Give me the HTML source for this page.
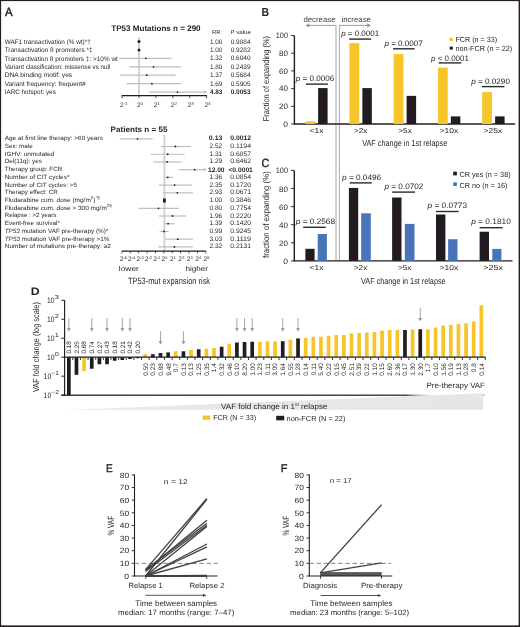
<!DOCTYPE html>
<html><head><meta charset="utf-8"><style>
html,body{margin:0;padding:0;background:#fff;}
svg{display:block;font-family:"Liberation Sans",sans-serif;text-rendering:geometricPrecision;}
</style></head><body>
<svg width="520" height="627" viewBox="0 0 520 627">
<defs><filter id="soft" x="0" y="0" width="520" height="627" filterUnits="userSpaceOnUse"><feGaussianBlur stdDeviation="0.35"/></filter></defs>
<rect x="0" y="0" width="520" height="627" fill="#fff"/>
<g filter="url(#soft)">
<rect x="0" y="0" width="520" height="627" fill="#fff"/>
<text x="5.10" y="16.00" font-size="12.0" textLength="7.60" lengthAdjust="spacingAndGlyphs" fill="#231f20" stroke="#231f20" stroke-width="0.45">A</text>
<text x="111.30" y="31.00" font-size="8.1" font-weight="bold" textLength="89.31" lengthAdjust="spacingAndGlyphs" fill="#231f20">TP53 Mutations n = 290</text>
<text x="211.92" y="34.10" font-size="5.5" textLength="8.55" lengthAdjust="spacingAndGlyphs" fill="#231f20">RR</text>
<text x="230.53" y="34.10" font-size="5.5" textLength="20.45" lengthAdjust="spacingAndGlyphs" fill="#231f20">P value</text>
<rect x="138" y="37" width="2" height="58.7" fill="#d1d3d4"/>
<text x="4.67" y="43.85" font-size="6.5" textLength="86.05" lengthAdjust="spacingAndGlyphs" fill="#231f20">WAF1 transactivation (% wt)*†</text>
<circle cx="139" cy="41.50" r="1.5" fill="#231f20"/>
<text x="209.97" y="43.75" font-size="6.6" textLength="12.46" lengthAdjust="spacingAndGlyphs" fill="#231f20">1.00</text>
<text x="230.67" y="43.75" font-size="6.6" textLength="19.86" lengthAdjust="spacingAndGlyphs" fill="#231f20">0.9884</text>
<text x="4.67" y="52.22" font-size="6.5" textLength="87.90" lengthAdjust="spacingAndGlyphs" fill="#231f20">Transactivation 8 promoters *‡</text>
<circle cx="139" cy="49.93" r="1.5" fill="#231f20"/>
<text x="209.97" y="52.12" font-size="6.6" textLength="12.46" lengthAdjust="spacingAndGlyphs" fill="#231f20">1.00</text>
<text x="230.67" y="52.12" font-size="6.6" textLength="19.86" lengthAdjust="spacingAndGlyphs" fill="#231f20">0.9282</text>
<text x="4.67" y="60.59" font-size="6.5" textLength="113.15" lengthAdjust="spacingAndGlyphs" fill="#231f20">Transactivation 8 promoters ‡: &gt;10% wt</text>
<line x1="119.30" y1="58.36" x2="171.40" y2="58.36" stroke="#bcbec0" stroke-width="1.2"/>
<circle cx="145.80" cy="58.36" r="0.9" fill="#231f20"/>
<text x="209.97" y="60.49" font-size="6.6" textLength="12.46" lengthAdjust="spacingAndGlyphs" fill="#231f20">1.32</text>
<text x="230.67" y="60.49" font-size="6.6" textLength="19.86" lengthAdjust="spacingAndGlyphs" fill="#231f20">0.6040</text>
<text x="4.67" y="68.96" font-size="6.5" textLength="105.65" lengthAdjust="spacingAndGlyphs" fill="#231f20">Variant classification: missense vs null</text>
<line x1="129.40" y1="66.79" x2="180.80" y2="66.79" stroke="#bcbec0" stroke-width="1.2"/>
<circle cx="153.50" cy="66.79" r="0.9" fill="#231f20"/>
<text x="209.97" y="68.86" font-size="6.6" textLength="12.46" lengthAdjust="spacingAndGlyphs" fill="#231f20">1.80</text>
<text x="230.67" y="68.86" font-size="6.6" textLength="19.86" lengthAdjust="spacingAndGlyphs" fill="#231f20">0.2439</text>
<text x="4.67" y="77.33" font-size="6.5" textLength="67.55" lengthAdjust="spacingAndGlyphs" fill="#231f20">DNA binding motif: yes</text>
<line x1="120.40" y1="75.22" x2="175.60" y2="75.22" stroke="#bcbec0" stroke-width="1.2"/>
<circle cx="146.70" cy="75.22" r="0.9" fill="#231f20"/>
<text x="209.97" y="77.23" font-size="6.6" textLength="12.46" lengthAdjust="spacingAndGlyphs" fill="#231f20">1.37</text>
<text x="230.67" y="77.23" font-size="6.6" textLength="19.86" lengthAdjust="spacingAndGlyphs" fill="#231f20">0.5684</text>
<text x="4.67" y="85.70" font-size="6.5" textLength="81.05" lengthAdjust="spacingAndGlyphs" fill="#231f20">Variant frequency: frequent#</text>
<line x1="126.50" y1="83.65" x2="181.30" y2="83.65" stroke="#bcbec0" stroke-width="1.2"/>
<circle cx="151.90" cy="83.65" r="0.9" fill="#231f20"/>
<text x="209.97" y="85.60" font-size="6.6" textLength="12.46" lengthAdjust="spacingAndGlyphs" fill="#231f20">1.69</text>
<text x="230.67" y="85.60" font-size="6.6" textLength="19.86" lengthAdjust="spacingAndGlyphs" fill="#231f20">0.5905</text>
<text x="4.67" y="94.07" font-size="6.5" textLength="51.15" lengthAdjust="spacingAndGlyphs" fill="#231f20">IARC hotspot: yes</text>
<line x1="149.20" y1="92.08" x2="206.30" y2="92.08" stroke="#bcbec0" stroke-width="1.2"/>
<circle cx="177.50" cy="92.08" r="0.9" fill="#231f20"/>
<text x="209.97" y="93.97" font-size="6.6" font-weight="bold" textLength="12.46" lengthAdjust="spacingAndGlyphs" fill="#231f20">4.83</text>
<text x="230.67" y="93.97" font-size="6.6" font-weight="bold" textLength="19.86" lengthAdjust="spacingAndGlyphs" fill="#231f20">0.0053</text>
<path d="M203.6,90.48 L206.6,92.08 L203.6,93.68" fill="none" stroke="#bcbec0" stroke-width="0.8"/>
<line x1="121.70" y1="95.70" x2="206.90" y2="95.70" stroke="#231f20" stroke-width="1.3"/>
<line x1="122.10" y1="95.70" x2="122.10" y2="98.20" stroke="#231f20" stroke-width="0.8"/>
<text x="121.80" y="107.10" font-size="6.6" text-anchor="middle" fill="#231f20" textLength="3.6" lengthAdjust="spacingAndGlyphs">2</text>
<text x="123.70" y="104.7" font-size="4.3" fill="#231f20">-1</text>
<line x1="139.00" y1="95.70" x2="139.00" y2="98.20" stroke="#231f20" stroke-width="0.8"/>
<text x="138.70" y="107.10" font-size="6.6" text-anchor="middle" fill="#231f20" textLength="3.6" lengthAdjust="spacingAndGlyphs">2</text>
<text x="140.60" y="104.7" font-size="4.3" fill="#231f20">0</text>
<line x1="155.90" y1="95.70" x2="155.90" y2="98.20" stroke="#231f20" stroke-width="0.8"/>
<text x="155.60" y="107.10" font-size="6.6" text-anchor="middle" fill="#231f20" textLength="3.6" lengthAdjust="spacingAndGlyphs">2</text>
<text x="157.50" y="104.7" font-size="4.3" fill="#231f20">1</text>
<line x1="172.80" y1="95.70" x2="172.80" y2="98.20" stroke="#231f20" stroke-width="0.8"/>
<text x="172.50" y="107.10" font-size="6.6" text-anchor="middle" fill="#231f20" textLength="3.6" lengthAdjust="spacingAndGlyphs">2</text>
<text x="174.40" y="104.7" font-size="4.3" fill="#231f20">2</text>
<line x1="189.70" y1="95.70" x2="189.70" y2="98.20" stroke="#231f20" stroke-width="0.8"/>
<text x="189.40" y="107.10" font-size="6.6" text-anchor="middle" fill="#231f20" textLength="3.6" lengthAdjust="spacingAndGlyphs">2</text>
<text x="191.30" y="104.7" font-size="4.3" fill="#231f20">3</text>
<line x1="206.60" y1="95.70" x2="206.60" y2="98.20" stroke="#231f20" stroke-width="0.8"/>
<text x="206.30" y="107.10" font-size="6.6" text-anchor="middle" fill="#231f20" textLength="3.6" lengthAdjust="spacingAndGlyphs">2</text>
<text x="208.20" y="104.7" font-size="4.3" fill="#231f20">4</text>
<text x="110.61" y="132.10" font-size="7.85" font-weight="bold" textLength="56.88" lengthAdjust="spacingAndGlyphs" fill="#231f20">Patients n = 55</text>
<rect x="163.4" y="135" width="2" height="115.8" fill="#d1d3d4"/>
<text x="4.70" y="140.20" font-size="6.1" textLength="98.21" lengthAdjust="spacingAndGlyphs" fill="#231f20">Age at first line therapy: &gt;60 years</text>
<line x1="119.60" y1="138.80" x2="152.70" y2="138.80" stroke="#bcbec0" stroke-width="1.2"/>
<circle cx="137.50" cy="138.80" r="0.9" fill="#231f20"/>
<text x="208.87" y="140.30" font-size="6.6" font-weight="bold" textLength="13.56" lengthAdjust="spacingAndGlyphs" fill="#231f20">0.13</text>
<text x="230.27" y="140.30" font-size="6.6" font-weight="bold" textLength="20.76" lengthAdjust="spacingAndGlyphs" fill="#231f20">0.0012</text>
<text x="4.70" y="147.92" font-size="6.1" textLength="28.01" lengthAdjust="spacingAndGlyphs" fill="#231f20">Sex: male</text>
<line x1="161.00" y1="146.52" x2="191.20" y2="146.52" stroke="#bcbec0" stroke-width="1.2"/>
<circle cx="175.40" cy="146.52" r="0.9" fill="#231f20"/>
<text x="209.47" y="148.02" font-size="6.6" textLength="12.76" lengthAdjust="spacingAndGlyphs" fill="#231f20">2.52</text>
<text x="230.27" y="148.02" font-size="6.6" textLength="20.76" lengthAdjust="spacingAndGlyphs" fill="#231f20">0.1194</text>
<text x="4.70" y="155.64" font-size="6.1" textLength="49.51" lengthAdjust="spacingAndGlyphs" fill="#231f20">IGHV: unmutated</text>
<line x1="150.80" y1="154.24" x2="184.60" y2="154.24" stroke="#bcbec0" stroke-width="1.2"/>
<circle cx="167.70" cy="154.24" r="0.9" fill="#231f20"/>
<text x="209.47" y="155.74" font-size="6.6" textLength="12.76" lengthAdjust="spacingAndGlyphs" fill="#231f20">1.31</text>
<text x="230.27" y="155.74" font-size="6.6" textLength="20.76" lengthAdjust="spacingAndGlyphs" fill="#231f20">0.6857</text>
<text x="4.70" y="163.36" font-size="6.1" textLength="37.31" lengthAdjust="spacingAndGlyphs" fill="#231f20">Del(11q): yes</text>
<line x1="153.50" y1="161.96" x2="181.50" y2="161.96" stroke="#bcbec0" stroke-width="1.2"/>
<circle cx="167.10" cy="161.96" r="0.9" fill="#231f20"/>
<text x="209.47" y="163.46" font-size="6.6" textLength="12.76" lengthAdjust="spacingAndGlyphs" fill="#231f20">1.29</text>
<text x="230.27" y="163.46" font-size="6.6" textLength="20.76" lengthAdjust="spacingAndGlyphs" fill="#231f20">0.6462</text>
<text x="4.70" y="171.08" font-size="6.1" textLength="57.61" lengthAdjust="spacingAndGlyphs" fill="#231f20">Therapy group: FCR</text>
<line x1="178.80" y1="169.68" x2="205.80" y2="169.68" stroke="#bcbec0" stroke-width="1.2"/>
<circle cx="194.60" cy="169.68" r="0.9" fill="#231f20"/>
<path d="M203.2,168.08 L206.2,169.68 L203.2,171.28" fill="none" stroke="#bcbec0" stroke-width="0.8"/>
<text x="207.97" y="171.58" font-size="6.6" font-weight="bold" textLength="16.56" lengthAdjust="spacingAndGlyphs" fill="#231f20">12.00</text>
<text x="228.47" y="171.58" font-size="6.6" font-weight="bold" textLength="24.36" lengthAdjust="spacingAndGlyphs" fill="#231f20">&lt;0.0001</text>
<text x="4.70" y="178.80" font-size="6.1" textLength="64.81" lengthAdjust="spacingAndGlyphs" fill="#231f20">Number of CIT cycles*</text>
<line x1="164.80" y1="177.40" x2="173.00" y2="177.40" stroke="#bcbec0" stroke-width="1.2"/>
<circle cx="167.70" cy="177.40" r="0.9" fill="#231f20"/>
<text x="209.47" y="178.90" font-size="6.6" textLength="12.76" lengthAdjust="spacingAndGlyphs" fill="#231f20">1.36</text>
<text x="230.27" y="178.90" font-size="6.6" textLength="20.76" lengthAdjust="spacingAndGlyphs" fill="#231f20">0.0854</text>
<text x="4.70" y="186.52" font-size="6.1" textLength="72.41" lengthAdjust="spacingAndGlyphs" fill="#231f20">Number of CIT cycles: &gt;5</text>
<line x1="159.00" y1="185.12" x2="191.70" y2="185.12" stroke="#bcbec0" stroke-width="1.2"/>
<circle cx="174.60" cy="185.12" r="0.9" fill="#231f20"/>
<text x="209.47" y="186.62" font-size="6.6" textLength="12.76" lengthAdjust="spacingAndGlyphs" fill="#231f20">2.35</text>
<text x="230.27" y="186.62" font-size="6.6" textLength="20.76" lengthAdjust="spacingAndGlyphs" fill="#231f20">0.1720</text>
<text x="4.70" y="194.24" font-size="6.1" textLength="53.11" lengthAdjust="spacingAndGlyphs" fill="#231f20">Therapy effect: CR</text>
<line x1="162.90" y1="192.84" x2="193.00" y2="192.84" stroke="#bcbec0" stroke-width="1.2"/>
<circle cx="177.30" cy="192.84" r="0.9" fill="#231f20"/>
<text x="209.47" y="194.34" font-size="6.6" textLength="12.76" lengthAdjust="spacingAndGlyphs" fill="#231f20">2.93</text>
<text x="230.27" y="194.34" font-size="6.6" textLength="20.76" lengthAdjust="spacingAndGlyphs" fill="#231f20">0.0671</text>
<text x="4.70" y="201.96" font-size="6.1" textLength="95.01" lengthAdjust="spacingAndGlyphs" fill="#231f20">Fludarabine cum. dose (mg/m<tspan font-size="4.2" dy="-2.6">2</tspan><tspan dy="2.6">)</tspan><tspan font-size="4.2" dy="-2.6">*§</tspan></text>
<rect x="163.00" y="198.56" width="2.80" height="4.00" fill="#231f20"/>
<text x="209.47" y="202.06" font-size="6.6" textLength="12.76" lengthAdjust="spacingAndGlyphs" fill="#231f20">1.00</text>
<text x="230.27" y="202.06" font-size="6.6" textLength="20.76" lengthAdjust="spacingAndGlyphs" fill="#231f20">0.3846</text>
<text x="4.70" y="209.68" font-size="6.1" textLength="107.11" lengthAdjust="spacingAndGlyphs" fill="#231f20">Fludarabine cum. dose &gt; 300 mg/m<tspan font-size="4.2" dy="-2.6">2§</tspan></text>
<line x1="138.50" y1="208.28" x2="178.80" y2="208.28" stroke="#bcbec0" stroke-width="1.2"/>
<circle cx="158.50" cy="208.28" r="0.9" fill="#231f20"/>
<text x="209.47" y="209.78" font-size="6.6" textLength="12.76" lengthAdjust="spacingAndGlyphs" fill="#231f20">0.80</text>
<text x="230.27" y="209.78" font-size="6.6" textLength="20.76" lengthAdjust="spacingAndGlyphs" fill="#231f20">0.7754</text>
<text x="4.70" y="217.40" font-size="6.1" textLength="51.61" lengthAdjust="spacingAndGlyphs" fill="#231f20">Relapse : &gt;2 years</text>
<line x1="159.00" y1="216.00" x2="186.50" y2="216.00" stroke="#bcbec0" stroke-width="1.2"/>
<circle cx="172.50" cy="216.00" r="0.9" fill="#231f20"/>
<text x="209.47" y="217.50" font-size="6.6" textLength="12.76" lengthAdjust="spacingAndGlyphs" fill="#231f20">1.96</text>
<text x="230.27" y="217.50" font-size="6.6" textLength="20.76" lengthAdjust="spacingAndGlyphs" fill="#231f20">0.2220</text>
<text x="4.70" y="225.12" font-size="6.1" textLength="55.31" lengthAdjust="spacingAndGlyphs" fill="#231f20">Event-free survival*</text>
<line x1="163.80" y1="223.72" x2="175.00" y2="223.72" stroke="#bcbec0" stroke-width="1.2"/>
<circle cx="168.10" cy="223.72" r="0.9" fill="#231f20"/>
<text x="209.47" y="225.22" font-size="6.6" textLength="12.76" lengthAdjust="spacingAndGlyphs" fill="#231f20">1.39</text>
<text x="230.27" y="225.22" font-size="6.6" textLength="20.76" lengthAdjust="spacingAndGlyphs" fill="#231f20">0.1420</text>
<text x="4.70" y="232.84" font-size="6.1" textLength="103.61" lengthAdjust="spacingAndGlyphs" fill="#231f20"><tspan font-style="italic">TP53</tspan> mutation VAF pre-therapy (%)*</text>
<line x1="159.60" y1="231.44" x2="168.70" y2="231.44" stroke="#bcbec0" stroke-width="1.2"/>
<circle cx="164.00" cy="231.44" r="0.9" fill="#231f20"/>
<text x="209.47" y="232.94" font-size="6.6" textLength="12.76" lengthAdjust="spacingAndGlyphs" fill="#231f20">0.99</text>
<text x="230.27" y="232.94" font-size="6.6" textLength="20.76" lengthAdjust="spacingAndGlyphs" fill="#231f20">0.9245</text>
<text x="4.70" y="240.56" font-size="6.1" textLength="104.81" lengthAdjust="spacingAndGlyphs" fill="#231f20"><tspan font-style="italic">TP53</tspan> mutation VAF pre-therapy &gt;1%</text>
<line x1="165.20" y1="239.16" x2="193.00" y2="239.16" stroke="#bcbec0" stroke-width="1.2"/>
<circle cx="177.70" cy="239.16" r="0.9" fill="#231f20"/>
<text x="209.47" y="240.66" font-size="6.6" textLength="12.76" lengthAdjust="spacingAndGlyphs" fill="#231f20">3.03</text>
<text x="230.27" y="240.66" font-size="6.6" textLength="20.76" lengthAdjust="spacingAndGlyphs" fill="#231f20">0.1119</text>
<text x="4.70" y="248.28" font-size="6.1" textLength="106.21" lengthAdjust="spacingAndGlyphs" fill="#231f20">Number of mutations pre-therapy: ≥2</text>
<line x1="158.00" y1="246.88" x2="192.70" y2="246.88" stroke="#bcbec0" stroke-width="1.2"/>
<circle cx="174.40" cy="246.88" r="0.9" fill="#231f20"/>
<text x="209.47" y="248.38" font-size="6.6" textLength="12.76" lengthAdjust="spacingAndGlyphs" fill="#231f20">2.32</text>
<text x="230.27" y="248.38" font-size="6.6" textLength="20.76" lengthAdjust="spacingAndGlyphs" fill="#231f20">0.2131</text>
<line x1="121.90" y1="251.20" x2="205.80" y2="251.20" stroke="#231f20" stroke-width="1.3"/>
<line x1="121.90" y1="251.20" x2="121.90" y2="253.30" stroke="#231f20" stroke-width="0.8"/>
<text x="121.50" y="261.40" font-size="6.6" text-anchor="middle" fill="#231f20" textLength="3.7" lengthAdjust="spacingAndGlyphs">2</text>
<text x="123.40" y="259.0" font-size="3.9" fill="#231f20">-5</text>
<line x1="130.29" y1="251.20" x2="130.29" y2="253.30" stroke="#231f20" stroke-width="0.8"/>
<text x="129.89" y="261.40" font-size="6.6" text-anchor="middle" fill="#231f20" textLength="3.7" lengthAdjust="spacingAndGlyphs">2</text>
<text x="131.79" y="259.0" font-size="3.9" fill="#231f20">-4</text>
<line x1="138.68" y1="251.20" x2="138.68" y2="253.30" stroke="#231f20" stroke-width="0.8"/>
<text x="138.28" y="261.40" font-size="6.6" text-anchor="middle" fill="#231f20" textLength="3.7" lengthAdjust="spacingAndGlyphs">2</text>
<text x="140.18" y="259.0" font-size="3.9" fill="#231f20">-3</text>
<line x1="147.07" y1="251.20" x2="147.07" y2="253.30" stroke="#231f20" stroke-width="0.8"/>
<text x="146.67" y="261.40" font-size="6.6" text-anchor="middle" fill="#231f20" textLength="3.7" lengthAdjust="spacingAndGlyphs">2</text>
<text x="148.57" y="259.0" font-size="3.9" fill="#231f20">-2</text>
<line x1="155.46" y1="251.20" x2="155.46" y2="253.30" stroke="#231f20" stroke-width="0.8"/>
<text x="155.06" y="261.40" font-size="6.6" text-anchor="middle" fill="#231f20" textLength="3.7" lengthAdjust="spacingAndGlyphs">2</text>
<text x="156.96" y="259.0" font-size="3.9" fill="#231f20">-1</text>
<line x1="163.85" y1="251.20" x2="163.85" y2="253.30" stroke="#231f20" stroke-width="0.8"/>
<text x="163.45" y="261.40" font-size="6.6" text-anchor="middle" fill="#231f20" textLength="3.7" lengthAdjust="spacingAndGlyphs">2</text>
<text x="165.35" y="259.0" font-size="3.9" fill="#231f20">0</text>
<line x1="172.24" y1="251.20" x2="172.24" y2="253.30" stroke="#231f20" stroke-width="0.8"/>
<text x="171.84" y="261.40" font-size="6.6" text-anchor="middle" fill="#231f20" textLength="3.7" lengthAdjust="spacingAndGlyphs">2</text>
<text x="173.74" y="259.0" font-size="3.9" fill="#231f20">1</text>
<line x1="180.63" y1="251.20" x2="180.63" y2="253.30" stroke="#231f20" stroke-width="0.8"/>
<text x="180.23" y="261.40" font-size="6.6" text-anchor="middle" fill="#231f20" textLength="3.7" lengthAdjust="spacingAndGlyphs">2</text>
<text x="182.13" y="259.0" font-size="3.9" fill="#231f20">2</text>
<line x1="189.02" y1="251.20" x2="189.02" y2="253.30" stroke="#231f20" stroke-width="0.8"/>
<text x="188.62" y="261.40" font-size="6.6" text-anchor="middle" fill="#231f20" textLength="3.7" lengthAdjust="spacingAndGlyphs">2</text>
<text x="190.52" y="259.0" font-size="3.9" fill="#231f20">3</text>
<line x1="197.41" y1="251.20" x2="197.41" y2="253.30" stroke="#231f20" stroke-width="0.8"/>
<text x="197.01" y="261.40" font-size="6.6" text-anchor="middle" fill="#231f20" textLength="3.7" lengthAdjust="spacingAndGlyphs">2</text>
<text x="198.91" y="259.0" font-size="3.9" fill="#231f20">4</text>
<line x1="205.80" y1="251.20" x2="205.80" y2="253.30" stroke="#231f20" stroke-width="0.8"/>
<text x="205.40" y="261.40" font-size="6.6" text-anchor="middle" fill="#231f20" textLength="3.7" lengthAdjust="spacingAndGlyphs">2</text>
<text x="207.30" y="259.0" font-size="3.9" fill="#231f20">5</text>
<text x="118.85" y="270.70" font-size="7.0" textLength="20.00" lengthAdjust="spacingAndGlyphs" fill="#231f20">lower</text>
<text x="185.45" y="270.70" font-size="7.0" textLength="22.60" lengthAdjust="spacingAndGlyphs" fill="#231f20">higher</text>
<text x="127.94" y="284.20" font-size="9.2" textLength="82.12" lengthAdjust="spacingAndGlyphs" fill="#231f20">TP53-mut expansion risk</text>
<text x="261.43" y="16.15" font-size="11.5" font-weight="bold" textLength="7.55" lengthAdjust="spacingAndGlyphs" fill="#231f20">B</text>
<text x="303.42" y="21.80" font-size="7.7" textLength="32.07" lengthAdjust="spacingAndGlyphs" fill="#3d3d3f">decrease</text>
<text x="341.42" y="21.80" font-size="7.7" textLength="29.47" lengthAdjust="spacingAndGlyphs" fill="#3d3d3f">increase</text>
<line x1="307.00" y1="25.40" x2="336.00" y2="25.40" stroke="#8f9194" stroke-width="0.9"/>
<line x1="339.40" y1="25.40" x2="369.00" y2="25.40" stroke="#8f9194" stroke-width="0.9"/>
<path d="M309.2,23.3 L305.6,25.4 L309.2,27.5 Z" fill="#8f9194"/>
<path d="M367.2,23.3 L370.8,25.4 L367.2,27.5 Z" fill="#8f9194"/>
<rect x="335.2" y="24.95" width="1.6" height="235.2" fill="#c7c8ca"/>
<rect x="338.9" y="24.95" width="1.0" height="235.2" fill="#a7a9ac"/>
<line x1="294.40" y1="35.50" x2="294.40" y2="124.60" stroke="#231f20" stroke-width="1.4"/>
<line x1="294.40" y1="124.00" x2="515.10" y2="124.00" stroke="#231f20" stroke-width="1.4"/>
<line x1="291.10" y1="124.00" x2="294.40" y2="124.00" stroke="#231f20" stroke-width="0.9"/>
<text x="283.31" y="126.70" font-size="7.9" textLength="4.69" lengthAdjust="spacingAndGlyphs" fill="#231f20">0</text>
<line x1="291.10" y1="106.30" x2="294.40" y2="106.30" stroke="#231f20" stroke-width="0.9"/>
<text x="279.11" y="109.00" font-size="7.9" textLength="8.89" lengthAdjust="spacingAndGlyphs" fill="#231f20">20</text>
<line x1="291.10" y1="88.60" x2="294.40" y2="88.60" stroke="#231f20" stroke-width="0.9"/>
<text x="279.11" y="91.30" font-size="7.9" textLength="8.89" lengthAdjust="spacingAndGlyphs" fill="#231f20">40</text>
<line x1="291.10" y1="70.90" x2="294.40" y2="70.90" stroke="#231f20" stroke-width="0.9"/>
<text x="279.11" y="73.60" font-size="7.9" textLength="8.89" lengthAdjust="spacingAndGlyphs" fill="#231f20">60</text>
<line x1="291.10" y1="53.20" x2="294.40" y2="53.20" stroke="#231f20" stroke-width="0.9"/>
<text x="279.11" y="55.90" font-size="7.9" textLength="8.89" lengthAdjust="spacingAndGlyphs" fill="#231f20">80</text>
<line x1="291.10" y1="35.50" x2="294.40" y2="35.50" stroke="#231f20" stroke-width="0.9"/>
<text x="275.71" y="38.20" font-size="7.9" textLength="12.29" lengthAdjust="spacingAndGlyphs" fill="#231f20">100</text>
<rect x="305.20" y="121.34" width="9.80" height="2.66" fill="#f5c52a"/>
<rect x="318.10" y="88.07" width="9.50" height="35.93" fill="#231f20"/>
<rect x="349.45" y="43.11" width="9.80" height="80.89" fill="#f5c52a"/>
<rect x="362.35" y="88.07" width="9.50" height="35.93" fill="#231f20"/>
<rect x="393.70" y="54.00" width="9.80" height="70.00" fill="#f5c52a"/>
<rect x="406.60" y="95.86" width="9.50" height="28.14" fill="#231f20"/>
<rect x="437.95" y="67.54" width="9.80" height="56.46" fill="#f5c52a"/>
<rect x="450.85" y="116.39" width="9.50" height="7.61" fill="#231f20"/>
<rect x="482.20" y="92.05" width="9.80" height="31.95" fill="#f5c52a"/>
<rect x="495.10" y="116.39" width="9.50" height="7.61" fill="#231f20"/>
<text x="295.85" y="81.00" font-size="7.9" fill="#231f20" textLength="38.30" lengthAdjust="spacingAndGlyphs"><tspan font-style="italic">p</tspan> = 0.0006</text>
<line x1="305.80" y1="84.10" x2="327.90" y2="84.10" stroke="#2b2b2b" stroke-width="1.4"/>
<text x="341.15" y="36.00" font-size="7.9" fill="#231f20" textLength="38.00" lengthAdjust="spacingAndGlyphs"><tspan font-style="italic">p</tspan> = 0.0001</text>
<line x1="349.10" y1="39.10" x2="371.20" y2="39.10" stroke="#2b2b2b" stroke-width="1.4"/>
<text x="384.45" y="46.40" font-size="7.9" fill="#231f20" textLength="38.30" lengthAdjust="spacingAndGlyphs"><tspan font-style="italic">p</tspan> = 0.0007</text>
<line x1="393.00" y1="48.80" x2="414.60" y2="48.80" stroke="#2b2b2b" stroke-width="1.4"/>
<text x="431.05" y="60.60" font-size="7.9" fill="#231f20" textLength="37.80" lengthAdjust="spacingAndGlyphs"><tspan font-style="italic">p</tspan> &lt; 0.0001</text>
<line x1="438.70" y1="62.90" x2="461.30" y2="62.90" stroke="#2b2b2b" stroke-width="1.4"/>
<text x="471.15" y="84.20" font-size="7.9" fill="#231f20" textLength="38.80" lengthAdjust="spacingAndGlyphs"><tspan font-style="italic">p</tspan> = 0.0290</text>
<line x1="481.90" y1="86.60" x2="504.40" y2="86.60" stroke="#2b2b2b" stroke-width="1.4"/>
<text x="309.64" y="133.30" font-size="7.2" textLength="14.02" lengthAdjust="spacingAndGlyphs" fill="#231f20">&lt;1x</text>
<text x="353.84" y="133.30" font-size="7.2" textLength="13.52" lengthAdjust="spacingAndGlyphs" fill="#231f20">&gt;2x</text>
<text x="398.24" y="133.30" font-size="7.2" textLength="13.52" lengthAdjust="spacingAndGlyphs" fill="#231f20">&gt;5x</text>
<text x="439.64" y="133.30" font-size="7.2" textLength="18.72" lengthAdjust="spacingAndGlyphs" fill="#231f20">&gt;10x</text>
<text x="483.64" y="133.30" font-size="7.2" textLength="18.52" lengthAdjust="spacingAndGlyphs" fill="#231f20">&gt;25x</text>
<text x="362.17" y="146.00" font-size="8.7" textLength="85.07" lengthAdjust="spacingAndGlyphs" fill="#231f20">VAF change in 1st relapse</text>
<text transform="translate(268.80,121.23) rotate(-90)" x="0" y="0" font-size="8.6" fill="#231f20" textLength="85.26" lengthAdjust="spacingAndGlyphs">Fraction of expanding (%)</text>
<rect x="449.70" y="37.80" width="3.10" height="3.00" fill="#f5c52a"/>
<text x="455.43" y="41.80" font-size="7.4" textLength="41.74" lengthAdjust="spacingAndGlyphs" fill="#231f20">FCR (n = 33)</text>
<rect x="449.70" y="46.60" width="3.10" height="3.00" fill="#231f20"/>
<text x="455.43" y="50.90" font-size="7.4" textLength="56.84" lengthAdjust="spacingAndGlyphs" fill="#231f20">non-FCR (n = 22)</text>
<text x="261.41" y="167.40" font-size="11.8" textLength="7.78" lengthAdjust="spacingAndGlyphs" fill="#231f20" stroke="#231f20" stroke-width="0.4">C</text>
<line x1="294.30" y1="170.40" x2="294.30" y2="261.50" stroke="#231f20" stroke-width="1.4"/>
<line x1="294.30" y1="260.90" x2="512.50" y2="260.90" stroke="#231f20" stroke-width="1.4"/>
<line x1="291.00" y1="260.90" x2="294.30" y2="260.90" stroke="#231f20" stroke-width="0.9"/>
<text x="283.31" y="263.90" font-size="7.9" textLength="4.69" lengthAdjust="spacingAndGlyphs" fill="#231f20">0</text>
<line x1="291.00" y1="242.80" x2="294.30" y2="242.80" stroke="#231f20" stroke-width="0.9"/>
<text x="279.11" y="245.80" font-size="7.9" textLength="8.89" lengthAdjust="spacingAndGlyphs" fill="#231f20">20</text>
<line x1="291.00" y1="224.70" x2="294.30" y2="224.70" stroke="#231f20" stroke-width="0.9"/>
<text x="279.11" y="227.70" font-size="7.9" textLength="8.89" lengthAdjust="spacingAndGlyphs" fill="#231f20">40</text>
<line x1="291.00" y1="206.60" x2="294.30" y2="206.60" stroke="#231f20" stroke-width="0.9"/>
<text x="279.11" y="209.60" font-size="7.9" textLength="8.89" lengthAdjust="spacingAndGlyphs" fill="#231f20">60</text>
<line x1="291.00" y1="188.50" x2="294.30" y2="188.50" stroke="#231f20" stroke-width="0.9"/>
<text x="279.11" y="191.50" font-size="7.9" textLength="8.89" lengthAdjust="spacingAndGlyphs" fill="#231f20">80</text>
<line x1="291.00" y1="170.40" x2="294.30" y2="170.40" stroke="#231f20" stroke-width="0.9"/>
<text x="275.71" y="173.40" font-size="7.9" textLength="12.29" lengthAdjust="spacingAndGlyphs" fill="#231f20">100</text>
<rect x="305.40" y="248.80" width="9.20" height="12.10" fill="#231f20"/>
<rect x="317.70" y="234.00" width="9.20" height="26.90" fill="#4a74b8"/>
<rect x="348.90" y="187.90" width="9.30" height="73.00" fill="#231f20"/>
<rect x="361.20" y="213.30" width="9.60" height="47.60" fill="#4a74b8"/>
<rect x="392.10" y="197.50" width="9.40" height="63.40" fill="#231f20"/>
<rect x="404.80" y="223.90" width="9.70" height="37.00" fill="#4a74b8"/>
<rect x="436.00" y="214.50" width="9.40" height="46.40" fill="#231f20"/>
<rect x="448.10" y="239.20" width="9.40" height="21.70" fill="#4a74b8"/>
<rect x="479.60" y="231.70" width="9.40" height="29.20" fill="#231f20"/>
<rect x="492.30" y="248.90" width="9.10" height="12.00" fill="#4a74b8"/>
<text x="295.85" y="224.40" font-size="7.9" fill="#231f20" textLength="39.20" lengthAdjust="spacingAndGlyphs"><tspan font-style="italic">p</tspan> = 0.2568</text>
<line x1="303.20" y1="227.30" x2="325.70" y2="227.30" stroke="#2b2b2b" stroke-width="1.4"/>
<text x="342.05" y="179.80" font-size="7.9" fill="#231f20" textLength="39.10" lengthAdjust="spacingAndGlyphs"><tspan font-style="italic">p</tspan> = 0.0496</text>
<line x1="349.70" y1="182.90" x2="371.80" y2="182.90" stroke="#2b2b2b" stroke-width="1.4"/>
<text x="384.45" y="188.70" font-size="7.9" fill="#231f20" textLength="38.90" lengthAdjust="spacingAndGlyphs"><tspan font-style="italic">p</tspan> = 0.0702</text>
<line x1="392.10" y1="192.10" x2="415.00" y2="192.10" stroke="#2b2b2b" stroke-width="1.4"/>
<text x="427.55" y="208.10" font-size="7.9" fill="#231f20" textLength="39.50" lengthAdjust="spacingAndGlyphs"><tspan font-style="italic">p</tspan> = 0.0773</text>
<line x1="436.00" y1="211.50" x2="458.60" y2="211.50" stroke="#2b2b2b" stroke-width="1.4"/>
<text x="471.15" y="224.20" font-size="7.9" fill="#231f20" textLength="39.80" lengthAdjust="spacingAndGlyphs"><tspan font-style="italic">p</tspan> = 0.1810</text>
<line x1="479.60" y1="227.70" x2="502.50" y2="227.70" stroke="#2b2b2b" stroke-width="1.4"/>
<text x="309.64" y="270.30" font-size="7.2" textLength="13.72" lengthAdjust="spacingAndGlyphs" fill="#231f20">&lt;1x</text>
<text x="353.84" y="270.30" font-size="7.2" textLength="13.42" lengthAdjust="spacingAndGlyphs" fill="#231f20">&gt;2x</text>
<text x="397.94" y="270.30" font-size="7.2" textLength="13.42" lengthAdjust="spacingAndGlyphs" fill="#231f20">&gt;5x</text>
<text x="439.44" y="270.30" font-size="7.2" textLength="18.92" lengthAdjust="spacingAndGlyphs" fill="#231f20">&gt;10x</text>
<text x="483.34" y="270.30" font-size="7.2" textLength="19.52" lengthAdjust="spacingAndGlyphs" fill="#231f20">&gt;25x</text>
<text x="361.06" y="283.80" font-size="8.7" textLength="84.57" lengthAdjust="spacingAndGlyphs" fill="#231f20">VAF change in 1st relapse</text>
<text transform="translate(268.80,257.93) rotate(-90)" x="0" y="0" font-size="8.6" fill="#231f20" textLength="86.66" lengthAdjust="spacingAndGlyphs">fraction of expanding (%)</text>
<rect x="453.20" y="171.70" width="3.70" height="3.70" fill="#231f20"/>
<text x="459.43" y="176.90" font-size="7.4" textLength="51.24" lengthAdjust="spacingAndGlyphs" fill="#231f20">CR yes (n = 38)</text>
<rect x="453.20" y="182.30" width="3.70" height="3.70" fill="#4a74b8"/>
<text x="459.43" y="187.50" font-size="7.4" textLength="48.14" lengthAdjust="spacingAndGlyphs" fill="#231f20">CR no (n = 16)</text>
<text x="30.86" y="295.00" font-size="10.8" font-weight="bold" textLength="8.88" lengthAdjust="spacingAndGlyphs" fill="#231f20">D</text>
<line x1="64.60" y1="300.00" x2="64.60" y2="395.80" stroke="#231f20" stroke-width="1.15"/>
<line x1="61.35" y1="395.12" x2="64.60" y2="395.12" stroke="#231f20" stroke-width="1.0"/>
<text x="43.60" y="397.87" font-size="7.9" textLength="7.59" lengthAdjust="spacingAndGlyphs" fill="#231f20">10</text>
<text x="51.32" y="394.22" font-size="5.7" textLength="7.47" lengthAdjust="spacingAndGlyphs" fill="#231f20">−2</text>
<line x1="61.35" y1="376.16" x2="64.60" y2="376.16" stroke="#231f20" stroke-width="1.0"/>
<text x="43.60" y="378.91" font-size="7.9" textLength="7.59" lengthAdjust="spacingAndGlyphs" fill="#231f20">10</text>
<text x="51.32" y="375.26" font-size="5.7" textLength="7.47" lengthAdjust="spacingAndGlyphs" fill="#231f20">−1</text>
<line x1="61.35" y1="357.20" x2="64.60" y2="357.20" stroke="#231f20" stroke-width="1.0"/>
<text x="47.00" y="359.95" font-size="7.9" textLength="7.49" lengthAdjust="spacingAndGlyphs" fill="#231f20">10</text>
<text x="54.82" y="356.30" font-size="5.7" textLength="4.07" lengthAdjust="spacingAndGlyphs" fill="#231f20">0</text>
<line x1="61.35" y1="338.24" x2="64.60" y2="338.24" stroke="#231f20" stroke-width="1.0"/>
<text x="47.00" y="340.99" font-size="7.9" textLength="7.49" lengthAdjust="spacingAndGlyphs" fill="#231f20">10</text>
<text x="54.82" y="337.34" font-size="5.7" textLength="4.07" lengthAdjust="spacingAndGlyphs" fill="#231f20">1</text>
<line x1="61.35" y1="319.28" x2="64.60" y2="319.28" stroke="#231f20" stroke-width="1.0"/>
<text x="47.00" y="322.03" font-size="7.9" textLength="7.49" lengthAdjust="spacingAndGlyphs" fill="#231f20">10</text>
<text x="54.82" y="318.38" font-size="5.7" textLength="4.07" lengthAdjust="spacingAndGlyphs" fill="#231f20">2</text>
<line x1="61.35" y1="300.32" x2="64.60" y2="300.32" stroke="#231f20" stroke-width="1.0"/>
<text x="47.00" y="303.07" font-size="7.9" textLength="7.49" lengthAdjust="spacingAndGlyphs" fill="#231f20">10</text>
<text x="54.82" y="299.42" font-size="5.7" textLength="4.07" lengthAdjust="spacingAndGlyphs" fill="#231f20">3</text>
<text transform="translate(38.70,392.04) rotate(-90)" x="0" y="0" font-size="8.7" fill="#231f20" textLength="89.97" lengthAdjust="spacingAndGlyphs">VAF fold change (log scale)</text>
<rect x="67.00" y="357.20" width="3.70" height="38.00" fill="#231f20"/>
<text transform="translate(71.20,353.6) rotate(-90)" font-size="6.4" fill="#231f20">0.18</text>
<line x1="68.85" y1="318.10" x2="68.85" y2="329.50" stroke="#939598" stroke-width="0.85"/>
<path d="M66.85,328.20 L68.85,331.50 L70.85,328.20 Z" fill="#939598"/>
<rect x="74.64" y="357.20" width="3.70" height="17.60" fill="#231f20"/>
<line x1="72.79" y1="357.20" x2="72.79" y2="360.00" stroke="#231f20" stroke-width="0.9"/>
<text transform="translate(78.84,353.6) rotate(-90)" font-size="6.4" fill="#231f20">2.25</text>
<rect x="82.28" y="357.20" width="3.70" height="13.80" fill="#f5c52a"/>
<line x1="80.43" y1="357.20" x2="80.43" y2="360.00" stroke="#231f20" stroke-width="0.9"/>
<text transform="translate(86.48,353.6) rotate(-90)" font-size="6.4" fill="#231f20">0.68</text>
<rect x="89.92" y="357.20" width="3.70" height="11.55" fill="#231f20"/>
<line x1="88.07" y1="357.20" x2="88.07" y2="360.00" stroke="#231f20" stroke-width="0.9"/>
<text transform="translate(94.12,353.6) rotate(-90)" font-size="6.4" fill="#231f20">0.74</text>
<line x1="91.77" y1="318.10" x2="91.77" y2="329.50" stroke="#939598" stroke-width="0.85"/>
<path d="M89.77,328.20 L91.77,331.50 L93.77,328.20 Z" fill="#939598"/>
<rect x="97.56" y="357.20" width="3.70" height="7.05" fill="#231f20"/>
<line x1="95.71" y1="357.20" x2="95.71" y2="360.00" stroke="#231f20" stroke-width="0.9"/>
<text transform="translate(101.76,353.6) rotate(-90)" font-size="6.4" fill="#231f20">0.27</text>
<rect x="105.19" y="357.20" width="3.70" height="7.05" fill="#231f20"/>
<line x1="103.34" y1="357.20" x2="103.34" y2="360.00" stroke="#231f20" stroke-width="0.9"/>
<text transform="translate(109.39,353.6) rotate(-90)" font-size="6.4" fill="#231f20">0.43</text>
<line x1="107.04" y1="318.10" x2="107.04" y2="329.50" stroke="#939598" stroke-width="0.85"/>
<path d="M105.04,328.20 L107.04,331.50 L109.04,328.20 Z" fill="#939598"/>
<rect x="112.83" y="357.20" width="3.70" height="3.55" fill="#231f20"/>
<line x1="110.98" y1="357.20" x2="110.98" y2="360.00" stroke="#231f20" stroke-width="0.9"/>
<text transform="translate(117.03,353.6) rotate(-90)" font-size="6.4" fill="#231f20">0.18</text>
<rect x="120.47" y="357.20" width="3.70" height="2.80" fill="#231f20"/>
<line x1="118.62" y1="357.20" x2="118.62" y2="360.00" stroke="#231f20" stroke-width="0.9"/>
<text transform="translate(124.67,353.6) rotate(-90)" font-size="6.4" fill="#231f20">0.21</text>
<line x1="122.32" y1="318.10" x2="122.32" y2="329.50" stroke="#939598" stroke-width="0.85"/>
<path d="M120.32,328.20 L122.32,331.50 L124.32,328.20 Z" fill="#939598"/>
<rect x="128.11" y="357.20" width="3.70" height="1.80" fill="#231f20"/>
<line x1="126.26" y1="357.20" x2="126.26" y2="360.00" stroke="#231f20" stroke-width="0.9"/>
<text transform="translate(132.31,353.6) rotate(-90)" font-size="6.4" fill="#231f20">0.42</text>
<line x1="129.96" y1="318.10" x2="129.96" y2="329.50" stroke="#939598" stroke-width="0.85"/>
<path d="M127.96,328.20 L129.96,331.50 L131.96,328.20 Z" fill="#939598"/>
<rect x="135.75" y="357.20" width="3.70" height="1.05" fill="#231f20"/>
<line x1="133.90" y1="357.20" x2="133.90" y2="360.00" stroke="#231f20" stroke-width="0.9"/>
<text transform="translate(139.95,353.6) rotate(-90)" font-size="6.4" fill="#231f20">0.20</text>
<rect x="143.39" y="354.20" width="3.70" height="3.00" fill="#f5c52a"/>
<line x1="141.54" y1="357.20" x2="141.54" y2="360.00" stroke="#231f20" stroke-width="0.9"/>
<text transform="translate(147.59,363.1) rotate(-90)" font-size="6.5" text-anchor="end" fill="#231f20">0.50</text>
<rect x="151.03" y="354.20" width="3.70" height="3.00" fill="#231f20"/>
<line x1="149.18" y1="357.20" x2="149.18" y2="360.00" stroke="#231f20" stroke-width="0.9"/>
<text transform="translate(155.23,363.1) rotate(-90)" font-size="6.5" text-anchor="end" fill="#231f20">0.23</text>
<rect x="158.67" y="353.00" width="3.70" height="4.20" fill="#231f20"/>
<line x1="156.82" y1="357.20" x2="156.82" y2="360.00" stroke="#231f20" stroke-width="0.9"/>
<text transform="translate(162.87,363.1) rotate(-90)" font-size="6.5" text-anchor="end" fill="#231f20">0.88</text>
<line x1="160.52" y1="331.20" x2="160.52" y2="342.60" stroke="#939598" stroke-width="0.85"/>
<path d="M158.52,341.30 L160.52,344.60 L162.52,341.30 Z" fill="#939598"/>
<rect x="166.31" y="352.40" width="3.70" height="4.80" fill="#231f20"/>
<line x1="164.46" y1="357.20" x2="164.46" y2="360.00" stroke="#231f20" stroke-width="0.9"/>
<text transform="translate(170.51,363.1) rotate(-90)" font-size="6.5" text-anchor="end" fill="#231f20">9.48</text>
<rect x="173.95" y="351.25" width="3.70" height="5.95" fill="#f5c52a"/>
<line x1="172.10" y1="357.20" x2="172.10" y2="360.00" stroke="#231f20" stroke-width="0.9"/>
<text transform="translate(178.15,363.1) rotate(-90)" font-size="6.5" text-anchor="end" fill="#231f20">0.7</text>
<rect x="181.59" y="351.25" width="3.70" height="5.95" fill="#231f20"/>
<line x1="179.74" y1="357.20" x2="179.74" y2="360.00" stroke="#231f20" stroke-width="0.9"/>
<text transform="translate(185.78,363.1) rotate(-90)" font-size="6.5" text-anchor="end" fill="#231f20">0.13</text>
<line x1="183.44" y1="331.20" x2="183.44" y2="342.60" stroke="#939598" stroke-width="0.85"/>
<path d="M181.44,341.30 L183.44,344.60 L185.44,341.30 Z" fill="#939598"/>
<rect x="189.22" y="350.00" width="3.70" height="7.20" fill="#f5c52a"/>
<line x1="187.37" y1="357.20" x2="187.37" y2="360.00" stroke="#231f20" stroke-width="0.9"/>
<text transform="translate(193.42,363.1) rotate(-90)" font-size="6.5" text-anchor="end" fill="#231f20">0.13</text>
<rect x="196.86" y="349.25" width="3.70" height="7.95" fill="#231f20"/>
<line x1="195.01" y1="357.20" x2="195.01" y2="360.00" stroke="#231f20" stroke-width="0.9"/>
<text transform="translate(201.06,363.1) rotate(-90)" font-size="6.5" text-anchor="end" fill="#231f20">1.25</text>
<rect x="204.50" y="348.75" width="3.70" height="8.45" fill="#f5c52a"/>
<line x1="202.65" y1="357.20" x2="202.65" y2="360.00" stroke="#231f20" stroke-width="0.9"/>
<text transform="translate(208.70,363.1) rotate(-90)" font-size="6.5" text-anchor="end" fill="#231f20">0.35</text>
<rect x="212.14" y="348.00" width="3.70" height="9.20" fill="#f5c52a"/>
<line x1="210.29" y1="357.20" x2="210.29" y2="360.00" stroke="#231f20" stroke-width="0.9"/>
<text transform="translate(216.34,363.1) rotate(-90)" font-size="6.5" text-anchor="end" fill="#231f20">1.4</text>
<rect x="219.78" y="346.75" width="3.70" height="10.45" fill="#231f20"/>
<line x1="217.93" y1="357.20" x2="217.93" y2="360.00" stroke="#231f20" stroke-width="0.9"/>
<text transform="translate(223.98,363.1) rotate(-90)" font-size="6.5" text-anchor="end" fill="#231f20">0.32</text>
<rect x="227.42" y="343.75" width="3.70" height="13.45" fill="#f5c52a"/>
<line x1="225.57" y1="357.20" x2="225.57" y2="360.00" stroke="#231f20" stroke-width="0.9"/>
<text transform="translate(231.62,363.1) rotate(-90)" font-size="6.5" text-anchor="end" fill="#231f20">0.46</text>
<rect x="235.06" y="342.50" width="3.70" height="14.70" fill="#231f20"/>
<line x1="233.21" y1="357.20" x2="233.21" y2="360.00" stroke="#231f20" stroke-width="0.9"/>
<text transform="translate(239.26,363.1) rotate(-90)" font-size="6.5" text-anchor="end" fill="#231f20">0.10</text>
<line x1="236.91" y1="318.10" x2="236.91" y2="329.50" stroke="#939598" stroke-width="0.85"/>
<path d="M234.91,328.20 L236.91,331.50 L238.91,328.20 Z" fill="#939598"/>
<rect x="242.70" y="342.00" width="3.70" height="15.20" fill="#231f20"/>
<line x1="240.85" y1="357.20" x2="240.85" y2="360.00" stroke="#231f20" stroke-width="0.9"/>
<text transform="translate(246.90,363.1) rotate(-90)" font-size="6.5" text-anchor="end" fill="#231f20">8.20</text>
<line x1="244.55" y1="318.10" x2="244.55" y2="329.50" stroke="#939598" stroke-width="0.85"/>
<path d="M242.55,328.20 L244.55,331.50 L246.55,328.20 Z" fill="#939598"/>
<rect x="250.34" y="341.75" width="3.70" height="15.45" fill="#231f20"/>
<line x1="248.49" y1="357.20" x2="248.49" y2="360.00" stroke="#231f20" stroke-width="0.9"/>
<text transform="translate(254.54,363.1) rotate(-90)" font-size="6.5" text-anchor="end" fill="#231f20">1.00</text>
<line x1="252.19" y1="318.10" x2="252.19" y2="329.50" stroke="#939598" stroke-width="0.85"/>
<path d="M250.19,328.20 L252.19,331.50 L254.19,328.20 Z" fill="#939598"/>
<rect x="257.98" y="341.75" width="3.70" height="15.45" fill="#f5c52a"/>
<line x1="256.12" y1="357.20" x2="256.12" y2="360.00" stroke="#231f20" stroke-width="0.9"/>
<text transform="translate(262.18,363.1) rotate(-90)" font-size="6.5" text-anchor="end" fill="#231f20">1.23</text>
<rect x="265.61" y="341.20" width="3.70" height="16.00" fill="#f5c52a"/>
<line x1="263.76" y1="357.20" x2="263.76" y2="360.00" stroke="#231f20" stroke-width="0.9"/>
<text transform="translate(269.81,363.1) rotate(-90)" font-size="6.5" text-anchor="end" fill="#231f20">0.11</text>
<rect x="273.25" y="341.20" width="3.70" height="16.00" fill="#f5c52a"/>
<line x1="271.40" y1="357.20" x2="271.40" y2="360.00" stroke="#231f20" stroke-width="0.9"/>
<text transform="translate(277.45,363.1) rotate(-90)" font-size="6.5" text-anchor="end" fill="#231f20">3.00</text>
<rect x="280.89" y="341.20" width="3.70" height="16.00" fill="#231f20"/>
<line x1="279.04" y1="357.20" x2="279.04" y2="360.00" stroke="#231f20" stroke-width="0.9"/>
<text transform="translate(285.09,363.1) rotate(-90)" font-size="6.5" text-anchor="end" fill="#231f20">1.64</text>
<line x1="282.74" y1="318.10" x2="282.74" y2="329.50" stroke="#939598" stroke-width="0.85"/>
<path d="M280.74,328.20 L282.74,331.50 L284.74,328.20 Z" fill="#939598"/>
<rect x="288.53" y="339.70" width="3.70" height="17.50" fill="#f5c52a"/>
<line x1="286.68" y1="357.20" x2="286.68" y2="360.00" stroke="#231f20" stroke-width="0.9"/>
<text transform="translate(292.73,363.1) rotate(-90)" font-size="6.5" text-anchor="end" fill="#231f20">0.55</text>
<rect x="296.17" y="338.40" width="3.70" height="18.80" fill="#231f20"/>
<line x1="294.32" y1="357.20" x2="294.32" y2="360.00" stroke="#231f20" stroke-width="0.9"/>
<text transform="translate(300.37,363.1) rotate(-90)" font-size="6.5" text-anchor="end" fill="#231f20">1.28</text>
<line x1="298.02" y1="318.10" x2="298.02" y2="329.50" stroke="#939598" stroke-width="0.85"/>
<path d="M296.02,328.20 L298.02,331.50 L300.02,328.20 Z" fill="#939598"/>
<rect x="303.81" y="338.00" width="3.70" height="19.20" fill="#f5c52a"/>
<line x1="301.96" y1="357.20" x2="301.96" y2="360.00" stroke="#231f20" stroke-width="0.9"/>
<text transform="translate(308.01,363.1) rotate(-90)" font-size="6.5" text-anchor="end" fill="#231f20">0.14</text>
<rect x="311.45" y="336.75" width="3.70" height="20.45" fill="#f5c52a"/>
<line x1="309.60" y1="357.20" x2="309.60" y2="360.00" stroke="#231f20" stroke-width="0.9"/>
<text transform="translate(315.65,363.1) rotate(-90)" font-size="6.5" text-anchor="end" fill="#231f20">0.11</text>
<rect x="319.09" y="336.75" width="3.70" height="20.45" fill="#f5c52a"/>
<line x1="317.24" y1="357.20" x2="317.24" y2="360.00" stroke="#231f20" stroke-width="0.9"/>
<text transform="translate(323.29,363.1) rotate(-90)" font-size="6.5" text-anchor="end" fill="#231f20">5.40</text>
<rect x="326.73" y="335.75" width="3.70" height="21.45" fill="#f5c52a"/>
<line x1="324.88" y1="357.20" x2="324.88" y2="360.00" stroke="#231f20" stroke-width="0.9"/>
<text transform="translate(330.93,363.1) rotate(-90)" font-size="6.5" text-anchor="end" fill="#231f20">0.22</text>
<rect x="334.37" y="335.00" width="3.70" height="22.20" fill="#f5c52a"/>
<line x1="332.51" y1="357.20" x2="332.51" y2="360.00" stroke="#231f20" stroke-width="0.9"/>
<text transform="translate(338.57,363.1) rotate(-90)" font-size="6.5" text-anchor="end" fill="#231f20">0.15</text>
<rect x="342.00" y="335.00" width="3.70" height="22.20" fill="#f5c52a"/>
<line x1="340.15" y1="357.20" x2="340.15" y2="360.00" stroke="#231f20" stroke-width="0.9"/>
<text transform="translate(346.20,363.1) rotate(-90)" font-size="6.5" text-anchor="end" fill="#231f20">0.45</text>
<rect x="349.64" y="333.25" width="3.70" height="23.95" fill="#f5c52a"/>
<line x1="347.79" y1="357.20" x2="347.79" y2="360.00" stroke="#231f20" stroke-width="0.9"/>
<text transform="translate(353.84,363.1) rotate(-90)" font-size="6.5" text-anchor="end" fill="#231f20">2.51</text>
<rect x="357.28" y="333.00" width="3.70" height="24.20" fill="#f5c52a"/>
<line x1="355.43" y1="357.20" x2="355.43" y2="360.00" stroke="#231f20" stroke-width="0.9"/>
<text transform="translate(361.48,363.1) rotate(-90)" font-size="6.5" text-anchor="end" fill="#231f20">0.39</text>
<rect x="364.92" y="332.50" width="3.70" height="24.70" fill="#f5c52a"/>
<line x1="363.07" y1="357.20" x2="363.07" y2="360.00" stroke="#231f20" stroke-width="0.9"/>
<text transform="translate(369.12,363.1) rotate(-90)" font-size="6.5" text-anchor="end" fill="#231f20">0.22</text>
<rect x="372.56" y="332.00" width="3.70" height="25.20" fill="#f5c52a"/>
<line x1="370.71" y1="357.20" x2="370.71" y2="360.00" stroke="#231f20" stroke-width="0.9"/>
<text transform="translate(376.76,363.1) rotate(-90)" font-size="6.5" text-anchor="end" fill="#231f20">1.10</text>
<rect x="380.20" y="330.50" width="3.70" height="26.70" fill="#f5c52a"/>
<line x1="378.35" y1="357.20" x2="378.35" y2="360.00" stroke="#231f20" stroke-width="0.9"/>
<text transform="translate(384.40,363.1) rotate(-90)" font-size="6.5" text-anchor="end" fill="#231f20">0.15</text>
<rect x="387.84" y="330.00" width="3.70" height="27.20" fill="#f5c52a"/>
<line x1="385.99" y1="357.20" x2="385.99" y2="360.00" stroke="#231f20" stroke-width="0.9"/>
<text transform="translate(392.04,363.1) rotate(-90)" font-size="6.5" text-anchor="end" fill="#231f20">2.60</text>
<rect x="395.48" y="330.00" width="3.70" height="27.20" fill="#f5c52a"/>
<line x1="393.63" y1="357.20" x2="393.63" y2="360.00" stroke="#231f20" stroke-width="0.9"/>
<text transform="translate(399.68,363.1) rotate(-90)" font-size="6.5" text-anchor="end" fill="#231f20">2.36</text>
<rect x="403.12" y="330.00" width="3.70" height="27.20" fill="#231f20"/>
<line x1="401.27" y1="357.20" x2="401.27" y2="360.00" stroke="#231f20" stroke-width="0.9"/>
<text transform="translate(407.32,363.1) rotate(-90)" font-size="6.5" text-anchor="end" fill="#231f20">0.17</text>
<rect x="410.75" y="329.50" width="3.70" height="27.70" fill="#f5c52a"/>
<line x1="408.90" y1="357.20" x2="408.90" y2="360.00" stroke="#231f20" stroke-width="0.9"/>
<text transform="translate(414.96,363.1) rotate(-90)" font-size="6.5" text-anchor="end" fill="#231f20">1.30</text>
<rect x="418.39" y="329.25" width="3.70" height="27.95" fill="#231f20"/>
<line x1="416.54" y1="357.20" x2="416.54" y2="360.00" stroke="#231f20" stroke-width="0.9"/>
<text transform="translate(422.59,363.1) rotate(-90)" font-size="6.5" text-anchor="end" fill="#231f20">2.30</text>
<line x1="420.24" y1="307.60" x2="420.24" y2="319.20" stroke="#939598" stroke-width="0.85"/>
<path d="M418.24,317.90 L420.24,321.20 L422.24,317.90 Z" fill="#939598"/>
<rect x="426.03" y="329.25" width="3.70" height="27.95" fill="#f5c52a"/>
<line x1="424.18" y1="357.20" x2="424.18" y2="360.00" stroke="#231f20" stroke-width="0.9"/>
<text transform="translate(430.23,363.1) rotate(-90)" font-size="6.5" text-anchor="end" fill="#231f20">1.7</text>
<rect x="433.67" y="327.50" width="3.70" height="29.70" fill="#f5c52a"/>
<line x1="431.82" y1="357.20" x2="431.82" y2="360.00" stroke="#231f20" stroke-width="0.9"/>
<text transform="translate(437.87,363.1) rotate(-90)" font-size="6.5" text-anchor="end" fill="#231f20">0.10</text>
<rect x="441.31" y="325.60" width="3.70" height="31.60" fill="#f5c52a"/>
<line x1="439.46" y1="357.20" x2="439.46" y2="360.00" stroke="#231f20" stroke-width="0.9"/>
<text transform="translate(445.51,363.1) rotate(-90)" font-size="6.5" text-anchor="end" fill="#231f20">1.56</text>
<rect x="448.95" y="324.80" width="3.70" height="32.40" fill="#f5c52a"/>
<line x1="447.10" y1="357.20" x2="447.10" y2="360.00" stroke="#231f20" stroke-width="0.9"/>
<text transform="translate(453.15,363.1) rotate(-90)" font-size="6.5" text-anchor="end" fill="#231f20">0.19</text>
<rect x="456.59" y="324.00" width="3.70" height="33.20" fill="#f5c52a"/>
<line x1="454.74" y1="357.20" x2="454.74" y2="360.00" stroke="#231f20" stroke-width="0.9"/>
<text transform="translate(460.79,363.1) rotate(-90)" font-size="6.5" text-anchor="end" fill="#231f20">1.13</text>
<rect x="464.23" y="323.40" width="3.70" height="33.80" fill="#f5c52a"/>
<line x1="462.38" y1="357.20" x2="462.38" y2="360.00" stroke="#231f20" stroke-width="0.9"/>
<text transform="translate(468.43,363.1) rotate(-90)" font-size="6.5" text-anchor="end" fill="#231f20">0.28</text>
<rect x="471.87" y="321.50" width="3.70" height="35.70" fill="#f5c52a"/>
<line x1="470.02" y1="357.20" x2="470.02" y2="360.00" stroke="#231f20" stroke-width="0.9"/>
<text transform="translate(476.07,363.1) rotate(-90)" font-size="6.5" text-anchor="end" fill="#231f20">0.8</text>
<rect x="479.51" y="305.30" width="3.70" height="51.90" fill="#f5c52a"/>
<line x1="477.66" y1="357.20" x2="477.66" y2="360.00" stroke="#231f20" stroke-width="0.9"/>
<text transform="translate(483.71,363.1) rotate(-90)" font-size="6.5" text-anchor="end" fill="#231f20">0.14</text>
<line x1="485.30" y1="357.20" x2="485.30" y2="360.00" stroke="#231f20" stroke-width="0.9"/>
<line x1="64.60" y1="357.20" x2="485.60" y2="357.20" stroke="#231f20" stroke-width="1.3"/>
<defs><linearGradient id="gdark" x1="0" x2="1" y1="0" y2="0"><stop offset="0" stop-color="#231f20"/><stop offset="0.925" stop-color="#2a2a2a"/><stop offset="0.97" stop-color="#999" stop-opacity="0.5"/><stop offset="1" stop-color="#ccc" stop-opacity="0"/></linearGradient><linearGradient id="gwedge" x1="0" x2="1" y1="0" y2="0"><stop offset="0" stop-color="#ededed"/><stop offset="0.3" stop-color="#e7e7e7"/><stop offset="1" stop-color="#e6e6e6"/></linearGradient></defs>
<path d="M66,409.9 L483.1,393.3 L483.1,409.8 Z" fill="url(#gwedge)"/>
<rect x="61.5" y="394.55" width="372" height="1.3" fill="url(#gdark)"/>
<circle cx="483.8" cy="395" r="0.6" fill="#231f20"/>
<text x="426.51" y="387.80" font-size="7.8" textLength="58.48" lengthAdjust="spacingAndGlyphs" fill="#231f20">Pre-therapy VAF</text>
<text x="221.1" y="408.7" font-size="7.8" fill="#231f20" textLength="106.3" lengthAdjust="spacingAndGlyphs">VAF fold change in 1<tspan font-size="4.8" dy="-2.8">st</tspan><tspan dy="2.8"> relapse</tspan></text>
<rect x="202.60" y="415.50" width="7.50" height="4.30" fill="#f5c52a"/>
<text x="213.24" y="420.20" font-size="7.2" textLength="42.82" lengthAdjust="spacingAndGlyphs" fill="#231f20">FCR (N = 33)</text>
<rect x="276.20" y="415.80" width="8.00" height="4.50" fill="#231f20"/>
<text x="286.54" y="420.50" font-size="7.2" textLength="58.92" lengthAdjust="spacingAndGlyphs" fill="#231f20">non-FCR (N = 22)</text>
<text x="105.94" y="471.70" font-size="11.2" textLength="6.72" lengthAdjust="spacingAndGlyphs" fill="#231f20" stroke="#231f20" stroke-width="0.35">E</text>
<line x1="134.50" y1="474.40" x2="134.50" y2="576.60" stroke="#231f20" stroke-width="1.1"/>
<line x1="131.70" y1="576.00" x2="134.50" y2="576.00" stroke="#231f20" stroke-width="0.9"/>
<text x="124.31" y="578.75" font-size="7.7" textLength="4.77" lengthAdjust="spacingAndGlyphs" fill="#231f20">0</text>
<line x1="131.70" y1="563.36" x2="134.50" y2="563.36" stroke="#231f20" stroke-width="0.9"/>
<text x="119.71" y="566.11" font-size="7.7" textLength="9.37" lengthAdjust="spacingAndGlyphs" fill="#231f20">10</text>
<line x1="131.70" y1="550.72" x2="134.50" y2="550.72" stroke="#231f20" stroke-width="0.9"/>
<text x="119.71" y="553.47" font-size="7.7" textLength="9.37" lengthAdjust="spacingAndGlyphs" fill="#231f20">20</text>
<line x1="131.70" y1="538.08" x2="134.50" y2="538.08" stroke="#231f20" stroke-width="0.9"/>
<text x="119.71" y="540.83" font-size="7.7" textLength="9.37" lengthAdjust="spacingAndGlyphs" fill="#231f20">30</text>
<line x1="131.70" y1="525.44" x2="134.50" y2="525.44" stroke="#231f20" stroke-width="0.9"/>
<text x="119.71" y="528.19" font-size="7.7" textLength="9.37" lengthAdjust="spacingAndGlyphs" fill="#231f20">40</text>
<line x1="131.70" y1="512.80" x2="134.50" y2="512.80" stroke="#231f20" stroke-width="0.9"/>
<text x="119.71" y="515.55" font-size="7.7" textLength="9.37" lengthAdjust="spacingAndGlyphs" fill="#231f20">50</text>
<line x1="131.70" y1="500.16" x2="134.50" y2="500.16" stroke="#231f20" stroke-width="0.9"/>
<text x="119.71" y="502.91" font-size="7.7" textLength="9.37" lengthAdjust="spacingAndGlyphs" fill="#231f20">60</text>
<line x1="131.70" y1="487.52" x2="134.50" y2="487.52" stroke="#231f20" stroke-width="0.9"/>
<text x="119.71" y="490.27" font-size="7.7" textLength="9.37" lengthAdjust="spacingAndGlyphs" fill="#231f20">70</text>
<line x1="131.70" y1="474.88" x2="134.50" y2="474.88" stroke="#231f20" stroke-width="0.9"/>
<text x="119.71" y="477.63" font-size="7.7" textLength="9.37" lengthAdjust="spacingAndGlyphs" fill="#231f20">80</text>
<line x1="134.50" y1="576.00" x2="217.50" y2="576.00" stroke="#231f20" stroke-width="1.2"/>
<line x1="145.80" y1="576.00" x2="145.80" y2="578.70" stroke="#231f20" stroke-width="0.9"/>
<line x1="206.70" y1="576.00" x2="206.70" y2="578.70" stroke="#231f20" stroke-width="0.9"/>
<line x1="134.50" y1="563.36" x2="217.80" y2="563.36" stroke="#808285" stroke-width="1.0" stroke-dasharray="4.5,2.7"/>
<line x1="145.50" y1="569.68" x2="206.90" y2="498.52" stroke="#414042" stroke-width="1.3"/>
<line x1="145.50" y1="576.00" x2="206.90" y2="499.40" stroke="#414042" stroke-width="1.3"/>
<line x1="145.50" y1="570.44" x2="206.90" y2="520.13" stroke="#414042" stroke-width="1.3"/>
<line x1="145.50" y1="569.68" x2="206.90" y2="523.29" stroke="#414042" stroke-width="1.3"/>
<line x1="145.50" y1="571.45" x2="206.90" y2="525.19" stroke="#414042" stroke-width="1.3"/>
<line x1="145.50" y1="576.00" x2="206.90" y2="526.45" stroke="#414042" stroke-width="1.3"/>
<line x1="145.50" y1="576.00" x2="206.90" y2="544.02" stroke="#414042" stroke-width="1.3"/>
<line x1="145.50" y1="576.00" x2="206.90" y2="546.80" stroke="#414042" stroke-width="1.3"/>
<line x1="145.50" y1="576.00" x2="206.90" y2="558.81" stroke="#414042" stroke-width="1.3"/>
<line x1="145.50" y1="576.00" x2="206.90" y2="575.37" stroke="#414042" stroke-width="1.3"/>
<line x1="145.50" y1="576.00" x2="206.90" y2="576.00" stroke="#414042" stroke-width="1.3"/>
<line x1="145.50" y1="576.00" x2="206.90" y2="576.00" stroke="#414042" stroke-width="1.3"/>
<text x="163.85" y="483.50" font-size="7.0" textLength="23.80" lengthAdjust="spacingAndGlyphs" fill="#231f20">n = 12</text>
<text transform="translate(113.70,535.45) rotate(-90)" x="0" y="0" font-size="9.0" fill="#231f20" textLength="19.50" lengthAdjust="spacingAndGlyphs">% VAF</text>
<text x="128.62" y="588.20" font-size="7.5" textLength="34.05" lengthAdjust="spacingAndGlyphs" fill="#231f20">Relapse 1</text>
<text x="189.43" y="588.20" font-size="7.5" textLength="35.05" lengthAdjust="spacingAndGlyphs" fill="#231f20">Relapse 2</text>
<line x1="145.30" y1="595.30" x2="203.90" y2="595.30" stroke="#414042" stroke-width="0.9"/>
<path d="M203.00,593.70 L206.40,595.30 L203.00,596.90 Z" fill="#414042"/>
<text x="135.30" y="605.60" font-size="8.0" textLength="81.80" lengthAdjust="spacingAndGlyphs" fill="#231f20">Time between samples</text>
<text x="118.02" y="614.60" font-size="7.6" textLength="116.36" lengthAdjust="spacingAndGlyphs" fill="#231f20">median: 17 months (range: 7–47)</text>
<rect x="320.20" y="572.10" width="61.50" height="3.90" fill="#58595b"/>
<text x="280.74" y="471.70" font-size="11.2" textLength="6.72" lengthAdjust="spacingAndGlyphs" fill="#231f20" stroke="#231f20" stroke-width="0.35">F</text>
<line x1="309.30" y1="474.40" x2="309.30" y2="576.60" stroke="#231f20" stroke-width="1.1"/>
<line x1="306.50" y1="576.00" x2="309.30" y2="576.00" stroke="#231f20" stroke-width="0.9"/>
<text x="299.12" y="578.75" font-size="7.7" textLength="4.77" lengthAdjust="spacingAndGlyphs" fill="#231f20">0</text>
<line x1="306.50" y1="563.36" x2="309.30" y2="563.36" stroke="#231f20" stroke-width="0.9"/>
<text x="294.51" y="566.11" font-size="7.7" textLength="9.37" lengthAdjust="spacingAndGlyphs" fill="#231f20">10</text>
<line x1="306.50" y1="550.72" x2="309.30" y2="550.72" stroke="#231f20" stroke-width="0.9"/>
<text x="294.51" y="553.47" font-size="7.7" textLength="9.37" lengthAdjust="spacingAndGlyphs" fill="#231f20">20</text>
<line x1="306.50" y1="538.08" x2="309.30" y2="538.08" stroke="#231f20" stroke-width="0.9"/>
<text x="294.51" y="540.83" font-size="7.7" textLength="9.37" lengthAdjust="spacingAndGlyphs" fill="#231f20">30</text>
<line x1="306.50" y1="525.44" x2="309.30" y2="525.44" stroke="#231f20" stroke-width="0.9"/>
<text x="294.51" y="528.19" font-size="7.7" textLength="9.37" lengthAdjust="spacingAndGlyphs" fill="#231f20">40</text>
<line x1="306.50" y1="512.80" x2="309.30" y2="512.80" stroke="#231f20" stroke-width="0.9"/>
<text x="294.51" y="515.55" font-size="7.7" textLength="9.37" lengthAdjust="spacingAndGlyphs" fill="#231f20">50</text>
<line x1="306.50" y1="500.16" x2="309.30" y2="500.16" stroke="#231f20" stroke-width="0.9"/>
<text x="294.51" y="502.91" font-size="7.7" textLength="9.37" lengthAdjust="spacingAndGlyphs" fill="#231f20">60</text>
<line x1="306.50" y1="487.52" x2="309.30" y2="487.52" stroke="#231f20" stroke-width="0.9"/>
<text x="294.51" y="490.27" font-size="7.7" textLength="9.37" lengthAdjust="spacingAndGlyphs" fill="#231f20">70</text>
<line x1="306.50" y1="474.88" x2="309.30" y2="474.88" stroke="#231f20" stroke-width="0.9"/>
<text x="294.51" y="477.63" font-size="7.7" textLength="9.37" lengthAdjust="spacingAndGlyphs" fill="#231f20">80</text>
<line x1="309.30" y1="576.00" x2="392.30" y2="576.00" stroke="#231f20" stroke-width="1.2"/>
<line x1="320.60" y1="576.00" x2="320.60" y2="578.70" stroke="#231f20" stroke-width="0.9"/>
<line x1="381.50" y1="576.00" x2="381.50" y2="578.70" stroke="#231f20" stroke-width="0.9"/>
<line x1="309.30" y1="563.36" x2="391.30" y2="563.36" stroke="#808285" stroke-width="1.0" stroke-dasharray="4.5,2.7"/>
<line x1="320.30" y1="572.84" x2="381.70" y2="504.58" stroke="#414042" stroke-width="1.3"/>
<line x1="320.30" y1="572.84" x2="381.70" y2="562.85" stroke="#414042" stroke-width="1.3"/>
<text x="329.65" y="482.80" font-size="7.0" textLength="21.95" lengthAdjust="spacingAndGlyphs" fill="#231f20">n = 17</text>
<text transform="translate(288.50,535.45) rotate(-90)" x="0" y="0" font-size="9.0" fill="#231f20" textLength="19.50" lengthAdjust="spacingAndGlyphs">% VAF</text>
<text x="303.12" y="588.20" font-size="7.5" textLength="34.15" lengthAdjust="spacingAndGlyphs" fill="#231f20">Diagnosis</text>
<text x="360.93" y="588.20" font-size="7.5" textLength="41.45" lengthAdjust="spacingAndGlyphs" fill="#231f20">Pre-therapy</text>
<line x1="320.75" y1="595.50" x2="378.75" y2="595.50" stroke="#414042" stroke-width="0.9"/>
<path d="M377.85,593.90 L381.25,595.50 L377.85,597.10 Z" fill="#414042"/>
<text x="310.35" y="605.60" font-size="8.0" textLength="82.05" lengthAdjust="spacingAndGlyphs" fill="#231f20">Time between samples</text>
<text x="290.12" y="614.60" font-size="7.6" textLength="119.01" lengthAdjust="spacingAndGlyphs" fill="#231f20">median: 23 months (range: 5–102)</text>
</g>
<rect x="0" y="0" width="520" height="1.1" fill="#231f20"/><rect x="0" y="0" width="1.1" height="627" fill="#231f20"/><rect x="518.6" y="0" width="1.4" height="627" fill="#231f20"/><rect x="0" y="625.4" width="520" height="1.6" fill="#231f20"/>
</svg>
</body></html>
